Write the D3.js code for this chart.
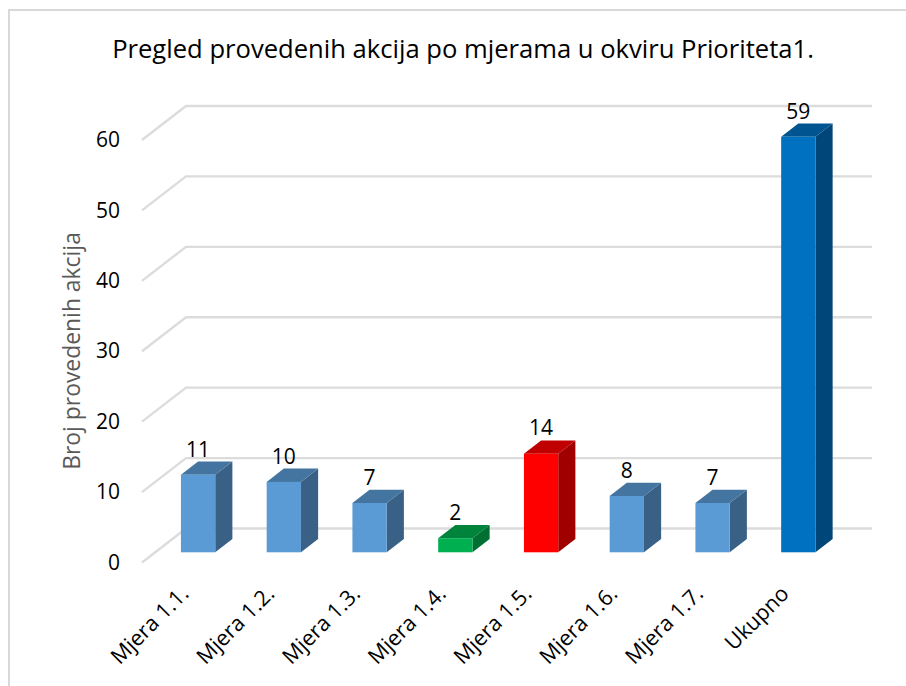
<!DOCTYPE html>
<html>
<head>
<meta charset="utf-8">
<script src="https://cdn.jsdelivr.net/npm/d3@7"></script>
<style>
    html, body { margin: 0; padding: 0; background: #fff; }
    svg { display: block; font-family: "Open Sans", sans-serif; }
</style>
</head>
<body>
<div id="chart"></div>
<script>
var categories = ["Mjera 1.1.", "Mjera 1.2.", "Mjera 1.3.", "Mjera 1.4.", "Mjera 1.5.", "Mjera 1.6.", "Mjera 1.7.", "Ukupno"];
var actions = [11, 10, 7, 2, 14, 8, 7, 59];
var yTicks = [0, 10, 20, 30, 40, 50, 60];
var chartTitle = "Pregled provedenih akcija po mjerama u okviru Prioriteta1.";
var yTitle = "Broj provedenih akcija";

var width = 906, height = 686,
    depthX = 44, depthY = 34,   // how far the back wall is shifted from the front plane
    barFront = 0.3, barBack = 0.69;   // bar depth, as a share of the floor

var svg = d3.select("#chart").append("svg")
    .attr("width", width)
    .attr("height", height);

var x = d3.scaleBand().domain(categories).range([142, 828]).paddingInner(0.6).paddingOuter(0.3);
var y = d3.scaleLinear().domain([0, 60]).range([562.5, 140]);

var faceColor = d3.scaleOrdinal()
    .domain(categories)
    .range(["#5b9bd5", "#5b9bd5", "#5b9bd5", "#00b050", "#ff0000", "#5b9bd5", "#5b9bd5", "#0070c0"]);

// chart frame
svg.append("path")
    .attr("d", "M9,686V10H906")
    .attr("fill", "none")
    .attr("stroke", "#d9d9d9")
    .attr("stroke-width", 2);

svg.append("text")
    .attr("x", 463)
    .attr("y", 58)
    .attr("text-anchor", "middle")
    .attr("font-size", 25.6)
    .attr("fill", "#000")
    .text(chartTitle);

// gridlines: left wall + back wall
svg.append("g").selectAll("path")
    .data(yTicks)
    .join("path")
    .attr("fill", "none")
    .attr("stroke", "#dcdcdc")
    .attr("stroke-width", 2.4)
    .attr("d", function(d) {
        return "M" + x.range()[0] + "," + y(d) +
            "L" + (x.range()[0] + depthX) + "," + (y(d) - depthY) +
            "H" + (x.range()[1] + depthX);
    });

var yAxis = svg.append("g")
    .attr("transform", "translate(120,0)")
    .call(d3.axisLeft(y).tickValues(yTicks).tickSize(0).tickPadding(0).tickFormat(d3.format("d")));
yAxis.select(".domain").remove();
yAxis.selectAll("text")
    .attr("font-family", "'Open Sans', sans-serif")
    .attr("font-size", 21)
    .attr("fill", "#000");

svg.append("text")
    .attr("transform", "translate(80,351) rotate(-90)")
    .attr("text-anchor", "middle")
    .attr("font-size", 22.9)
    .attr("fill", "#595959")
    .text(yTitle);

var xAxis = svg.append("g")
    .attr("transform", "translate(0,563)")
    .call(d3.axisBottom(x).tickSize(0));
xAxis.select(".domain").remove();
xAxis.selectAll("text")
    .attr("font-family", "'Open Sans', sans-serif")
    .attr("font-size", 21.6)
    .attr("fill", "#000")
    .attr("text-anchor", "end")
    .attr("dy", 0)
    .attr("transform", "translate(3,30) rotate(-45)");

var bars = svg.append("g").selectAll("g")
    .data(categories)
    .join("g");

function barValue(d) {
    return actions[categories.indexOf(d)];
}

// x and y of the bar's corners on the front and back planes
function corners(d) {
    var fx = x(d) + barFront * depthX,
        bx = x(d) + barBack * depthX,
        w = x.bandwidth(),
        fBase = y(0) - barFront * depthY,
        bBase = y(0) - barBack * depthY,
        fTop = y(barValue(d)) - barFront * depthY,
        bTop = y(barValue(d)) - barBack * depthY;
    return { fx: fx, bx: bx, w: w, fBase: fBase, bBase: bBase, fTop: fTop, bTop: bTop };
}

bars.append("path")
    .attr("fill", function(d) { return d3.color(faceColor(d)).darker(1.3); })
    .attr("d", function(d) {
        var c = corners(d);
        return "M" + (c.fx + c.w) + "," + c.fBase + "L" + (c.bx + c.w) + "," + c.bBase +
            "V" + c.bTop + "L" + (c.fx + c.w) + "," + c.fTop + "Z";
    });

bars.append("path")
    .attr("fill", function(d) { return d3.color(faceColor(d)).darker(0.8); })
    .attr("d", function(d) {
        var c = corners(d);
        return "M" + c.fx + "," + c.fTop + "L" + c.bx + "," + c.bTop +
            "H" + (c.bx + c.w) + "L" + (c.fx + c.w) + "," + c.fTop + "Z";
    });

bars.append("rect")
    .attr("fill", faceColor)
    .attr("x", function(d) { return corners(d).fx; })
    .attr("y", function(d) { return corners(d).fTop; })
    .attr("width", x.bandwidth())
    .attr("height", function(d) { return corners(d).fBase - corners(d).fTop; });

bars.append("text")
    .attr("x", function(d) { return corners(d).fx + x.bandwidth() / 2; })
    .attr("y", function(d) { return corners(d).bTop - 5; })
    .attr("text-anchor", "middle")
    .attr("font-size", 21)
    .attr("fill", "#000")
    .text(barValue);
</script>
</body>
</html>
